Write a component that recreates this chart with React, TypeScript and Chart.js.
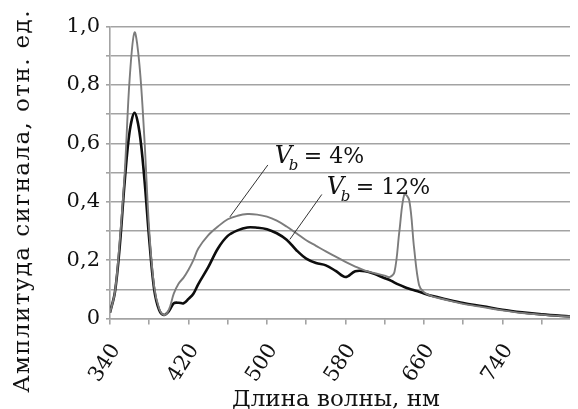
import React, { useEffect, useRef } from 'react';
import { Chart, registerables } from 'chart.js';

Chart.register(...registerables);

const wavelengths = [
  340, 345, 350, 355, 360, 365, 370, 375, 380, 385, 390, 395, 400, 405, 410, 415, 420, 425, 430,
  440, 450, 460, 470, 480, 490, 500, 510, 520, 530, 540, 550, 560, 570, 580, 590, 600, 610, 620,
  625, 630, 635, 640, 645, 650, 655, 660, 670, 680, 700, 720, 740, 760, 780, 800, 816,
];

const vb4 = [
  0.02, 0.09, 0.27, 0.5, 0.82, 0.98, 0.87, 0.62, 0.3, 0.11, 0.035, 0.012, 0.03, 0.085, 0.12, 0.14,
  0.167, 0.2, 0.24, 0.285, 0.315, 0.34, 0.352, 0.358, 0.356, 0.349, 0.335, 0.315, 0.292, 0.268,
  0.249, 0.23, 0.212, 0.194, 0.178, 0.164, 0.155, 0.147, 0.142, 0.16, 0.3, 0.425, 0.405, 0.24,
  0.115, 0.09, 0.074, 0.066, 0.05, 0.039, 0.028, 0.019, 0.013, 0.008, 0.006,
];

const vb12 = [
  0.02, 0.09, 0.25, 0.47, 0.64, 0.705, 0.64, 0.48, 0.27, 0.1, 0.03, 0.012, 0.025, 0.052, 0.054,
  0.052, 0.067, 0.085, 0.118, 0.175, 0.24, 0.283, 0.302, 0.312, 0.311, 0.306, 0.292, 0.27, 0.234,
  0.205, 0.19, 0.182, 0.163, 0.142, 0.162, 0.162, 0.152, 0.138, 0.132, 0.123, 0.115, 0.108, 0.102,
  0.097, 0.092, 0.086, 0.076, 0.068, 0.053, 0.042, 0.03, 0.021, 0.014, 0.009, 0.006,
];

const xTickLabels = [340, 420, 500, 580, 660, 740];
const yTickLabels = ['0', '0,2', '0,4', '0,6', '0,8', '1,0'];
const xTitle = 'Длина волны, нм';
const yTitle = 'Амплитуда сигнала, отн. ед.';

const labelTexts = ['= 4%', '= 12%'];
const labelAnchorNm = [508, 561];
const labelAnchorVal = [0.533, 0.425];
const leaderFromNm = [500.9, 555.9];
const leaderFromVal = [0.526, 0.425];
const leaderToNm = [462.2, 523.3];
const leaderToVal = [0.348, 0.271];

const SERIF = '"DejaVu Serif", serif';
const INK = '#111';

const overlayPlugin = {
  id: 'overlay',
  afterDraw(chart: any) {
    const ctx = chart.ctx as CanvasRenderingContext2D;
    const xs = chart.scales.x;
    const ys = chart.scales.y;
    ctx.save();
    ctx.fillStyle = INK;
    // axis titles
    ctx.font = `23px ${SERIF}`;
    ctx.textAlign = 'center';
    ctx.textBaseline = 'alphabetic';
    ctx.fillText(xTitle, 328, 398);
    ctx.save();
    ctx.translate(15, 193);
    ctx.rotate(-Math.PI / 2);
    ctx.textBaseline = 'middle';
    (ctx as any).letterSpacing = '1.4px';
    ctx.fillText(yTitle, 0, 0);
    ctx.restore();

    // leader lines
    ctx.strokeStyle = '#333';
    ctx.lineWidth = 1;
    for (let i = 0; i < labelTexts.length; i++) {
      ctx.beginPath();
      ctx.moveTo(xs.getPixelForValue(leaderFromNm[i]), ys.getPixelForValue(leaderFromVal[i]));
      ctx.lineTo(xs.getPixelForValue(leaderToNm[i]), ys.getPixelForValue(leaderToVal[i]));
      ctx.stroke();
    }
    // labels
    ctx.textAlign = 'left';
    ctx.textBaseline = 'alphabetic';
    for (let i = 0; i < labelTexts.length; i++) {
      const x = xs.getPixelForValue(labelAnchorNm[i]);
      const y = ys.getPixelForValue(labelAnchorVal[i]);
      ctx.font = `italic 24px ${SERIF}`;
      ctx.fillText('V', x, y);
      ctx.font = `italic 15px ${SERIF}`;
      ctx.fillText('b', x + 14, y + 7);
      ctx.font = `22px ${SERIF}`;
      ctx.fillText(labelTexts[i], x + 29, y);
    }
    ctx.restore();
  },
};

export default function App() {
  const ref = useRef<HTMLCanvasElement | null>(null);
  useEffect(() => {
    if (!ref.current) return;
    Chart.defaults.font.family = SERIF;
    const chart = new Chart(ref.current, {
      type: 'line',
      data: {
        datasets: [
          {
            label: 'Vb = 4%',
            data: wavelengths.map((w, i) => ({ x: w, y: vb4[i] })),
            borderColor: '#7c7c7c',
            borderWidth: 1.9,
            pointRadius: 0,
            tension: 0.35,
            fill: false,
          },
          {
            label: 'Vb = 12%',
            data: wavelengths.map((w, i) => ({ x: w, y: vb12[i] })),
            borderColor: '#0d0d0d',
            borderWidth: 2.6,
            pointRadius: 0,
            tension: 0.35,
            fill: false,
          },
        ],
      },
      options: {
        responsive: false,
        animation: false,
        layout: { padding: { top: 13, right: 1, left: 0, bottom: 0 } },
        plugins: { legend: { display: false }, tooltip: { enabled: false } },
        scales: {
          x: {
            type: 'linear',
            min: 340,
            max: 816,
            afterBuildTicks: (scale: any) => {
              const t = [];
              for (let v = 340; v <= 816; v += 40) t.push({ value: v });
              scale.ticks = t;
            },
            afterFit: (scale: any) => {
              scale.height = 90.5;
            },
            ticks: {
              autoSkip: false,
              minRotation: 57,
              maxRotation: 57,
              padding: 15,
              labelOffset: 6,
              color: INK,
              font: { size: 21, family: SERIF },
              callback: (v: any) => (xTickLabels.includes(Number(v)) ? String(v) : ''),
            },
            grid: { drawOnChartArea: false, drawTicks: true, tickLength: 6, color: '#a3a3a3', lineWidth: 1.6 },
            border: { display: true, color: '#a3a3a3', width: 1.6 },
          },
          y: {
            min: 0,
            max: 1,
            afterFit: (scale: any) => {
              scale.width = 102;
            },
            ticks: {
              stepSize: 0.1,
              padding: 6,
              color: INK,
              font: { size: 21, family: SERIF },
              callback: (v: any) => {
                const k = Number(v) * 5;
                return Math.abs(k - Math.round(k)) < 1e-6 ? yTickLabels[Math.round(k)] : '';
              },
            },
            grid: { color: '#a3a3a3', lineWidth: 1.6, tickLength: 4 },
            border: { display: true, color: '#a3a3a3', width: 1.6 },
          },
        },
      },
      plugins: [overlayPlugin],
    } as any);
    return () => chart.destroy();
  }, []);
  return <canvas ref={ref} width={570} height={401} style={{ display: 'block' }} />;
}
